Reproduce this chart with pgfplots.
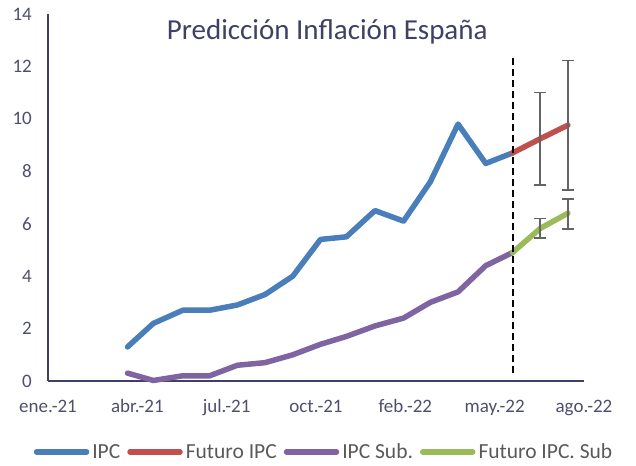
\documentclass[border=0pt]{standalone}
\usepackage{pgfplots}
\pgfplotsset{compat=1.18}
\usepackage{fontspec}
\setmainfont{Carlito}
\definecolor{ipc}{RGB}{74,126,187}
\definecolor{fipc}{RGB}{192,80,77}
\definecolor{sub}{RGB}{128,100,162}
\definecolor{fsub}{RGB}{155,187,89}
\definecolor{axc}{RGB}{64,64,100}
\definecolor{txt}{RGB}{78,78,110}
\definecolor{ttl}{RGB}{64,64,100}
\definecolor{leg}{RGB}{89,89,89}
\definecolor{ebar}{RGB}{100,100,100}
\begin{document}
\begin{tikzpicture}
\useasboundingbox (-48bp,-85bp) rectangle (588bp,381bp);
\begin{axis}[
  scale only axis, width=536bp, height=367bp,
  xmin=0, xmax=600, ymin=0, ymax=14,
  axis x line*=bottom, axis y line*=left,
  axis line style={axc, line width=1.5bp, -},
  clip=false,
  xtick={0,100,200,300,400,500,600},
  xticklabels={ene.-21,abr.-21,jul.-21,oct.-21,feb.-22,may.-22,ago.-22},
  ytick={0,2,4,6,8,10,12,14},
  major tick length=0pt,
  tick style={draw=none},
  /pgf/number format/assume math mode=true,
  ticklabel style={font=\fontsize{19bp}{22bp}\selectfont, text=txt},
  xticklabel style={anchor=base, yshift=-31bp},
  yticklabel style={anchor=east, inner sep=0pt, xshift=-16bp},
  title={Predicción Inflación España},
  title style={at={(0.521,0.935)}, anchor=center, font=\fontsize{29bp}{34bp}\selectfont, text=ttl},
  legend style={at={(0.515,-0.193)}, anchor=center, draw=none, fill=none,
    legend columns=4, font=\fontsize{21.5bp}{25bp}\selectfont, text=leg,
    /tikz/every odd column/.append style={column sep=1bp},
    /tikz/every even column/.append style={column sep=5bp}},
  legend image code/.code={\draw[#1, line cap=round] (0bp,0bp) -- (50bp,0bp);},
  every axis plot/.append style={line width=5.5bp, line cap=round, line join=round},
]
\addplot[ipc] coordinates {(89,1.3)(118,2.2)(151,2.7)(181,2.7)(212,2.9)(243,3.3)(274,4.0)(305,5.4)(334,5.5)(366,6.5)(398,6.1)(428,7.6)(459,9.8)(490,8.3)(520,8.7)};
\addlegendentry{IPC}
\addplot[fipc] coordinates {(520,8.7)(551,9.24)(582,9.76)};
\addlegendentry{Futuro IPC}
\addplot[sub] coordinates {(89,0.3)(118,0.02)(151,0.2)(181,0.2)(212,0.6)(243,0.7)(274,1.0)(305,1.4)(334,1.7)(366,2.1)(398,2.4)(428,3.0)(459,3.4)(490,4.4)(520,4.9)};
\addlegendentry{IPC Sub.}
\addplot[fsub] coordinates {(520,4.9)(551,5.82)(582,6.4)};
\addlegendentry{Futuro IPC. Sub}
\addplot[draw=none, forget plot, error bars/.cd, y dir=both, y explicit,
  error bar style={ebar, line width=1.5bp, line cap=butt},
  error mark options={ebar, line width=1.5bp, rotate=90, mark size=6bp}]
  coordinates {(551,9.24) +- (0,1.76) (582,9.76) +- (0,2.47) (551,5.82) +- (0,0.37) (582,6.37) +- (0,0.58)};
\addplot[black, line width=2bp, line cap=butt, dash pattern=on 7bp off 4bp, forget plot] coordinates {(520,0.3)(520,12.4)};
\end{axis}
\end{tikzpicture}
\end{document}
